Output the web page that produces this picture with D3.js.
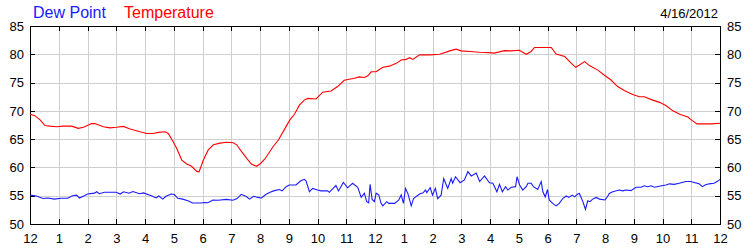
<!DOCTYPE html>
<html>
<head>
<meta charset="utf-8">
<script src="https://cdn.jsdelivr.net/npm/d3@7"></script>
<style>
  body { margin: 0; background: #fff; }
  svg { display: block; font-family: Arial, "Liberation Sans", sans-serif; }
  .axis text { font-size: 13px; fill: #000; }
  .axis line { stroke: #000; }
  .grid line { stroke: #cfcfcf; shape-rendering: crispEdges; }
</style>
</head>
<body>
<svg id="chart" width="750" height="250"></svg>
<script>
'use strict';

// hour labels along the bottom, 12 am to 12 am
const hourLabels = ['12', '1', '2', '3', '4', '5', '6', '7', '8', '9', '10', '11',
                    '12', '1', '2', '3', '4', '5', '6', '7', '8', '9', '10', '11', '12'];
const yTicks = [50, 55, 60, 65, 70, 75, 80, 85];

// temperature readings (hours since midnight, degrees F)
const tempHours = [0.00, 0.17, 0.35, 0.52, 0.70, 0.93, 1.16, 1.45, 1.68, 1.86, 2.14, 2.26, 2.55, 2.78,
  3.01, 3.25, 3.48, 3.83, 4.06, 4.29, 4.46, 4.70, 4.81, 4.98, 5.10, 5.28, 5.45, 5.62, 5.80, 5.88,
  6.03, 6.20, 6.38, 6.61, 6.84, 7.07, 7.19, 7.36, 7.54, 7.70, 7.88, 8.02, 8.17, 8.46, 8.64, 8.87,
  9.04, 9.20, 9.37, 9.54, 9.66, 9.95, 10.18, 10.47, 10.70, 10.93, 11.10, 11.28, 11.45, 11.63, 11.75,
  11.87, 12.04, 12.27, 12.50, 12.74, 12.91, 13.08, 13.20, 13.32, 13.55, 13.90, 14.25, 14.60, 14.82,
  15.00, 15.30, 15.63, 15.98, 16.15, 16.50, 16.73, 17.02, 17.26, 17.43, 17.55, 18.13, 18.30, 18.60,
  18.83, 18.98, 19.11, 19.29, 19.46, 19.75, 19.98, 20.20, 20.44, 20.67, 20.96, 21.20, 21.37, 21.66,
  21.90, 22.13, 22.36, 22.60, 22.88, 23.00, 23.20, 23.70, 24.00];
const tempValues = [69.4, 69.15, 68.4, 67.4, 67.3, 67.2, 67.3, 67.3, 66.9, 67.1, 67.75, 67.75, 67.2, 67.0,
  67.1, 67.25, 66.8, 66.3, 66.0, 66.0, 66.2, 66.3, 66.0, 64.55, 63.4, 61.3, 60.6, 60.2, 59.3, 59.2,
  61.3, 63.1, 64.0, 64.3, 64.45, 64.35, 64.0, 62.8, 61.6, 60.6, 60.2, 60.7, 61.5, 63.7, 64.85, 66.9,
  68.4, 69.4, 71.0, 71.9, 72.2, 72.1, 73.3, 73.5, 74.3, 75.4, 75.6, 75.75, 76.0, 75.9, 76.2,
  76.9, 76.9, 77.7, 77.9, 78.4, 79.0, 79.1, 79.4, 79.1, 79.9, 79.9, 80.0, 80.6, 80.9,
  80.6, 80.5, 80.35, 80.3, 80.2, 80.65, 80.6, 80.7, 80.0, 80.5, 81.2, 81.2, 80.05, 79.6,
  78.4, 77.7, 78.1, 78.7, 78.0, 77.2, 76.3, 75.5, 74.3, 73.6, 72.9, 72.5, 72.5, 71.9,
  71.5, 70.9, 70.0, 69.4, 68.9, 68.4, 67.7, 67.7, 67.8];

// dew point readings (hours since midnight, degrees F)
const dewHours = [0.00, 0.22, 0.45, 0.62, 0.85, 1.08, 1.31, 1.48, 1.62, 1.72, 1.89, 2.00, 2.24, 2.32,
  2.41, 2.59, 3.00, 3.14, 3.25, 3.44, 3.58, 3.81, 3.95, 4.22, 4.39, 4.48, 4.62, 4.73, 4.91, 5.02,
  5.14, 5.31, 5.49, 5.66, 5.95, 6.07, 6.19, 6.36, 6.54, 6.83, 7.06, 7.20, 7.35, 7.52, 7.64, 7.78,
  7.92, 8.05, 8.20, 8.35, 8.50, 8.68, 8.77, 8.91, 9.02, 9.25, 9.42, 9.54, 9.60, 9.72, 9.83, 10.00,
  10.12, 10.35, 10.41, 10.64, 10.73, 10.90, 11.05, 11.22, 11.40, 11.52, 11.63, 11.71, 11.78, 11.83,
  11.90, 11.98, 12.04, 12.13, 12.21, 12.27, 12.41, 12.48, 12.68, 12.83, 12.91, 12.99, 13.06, 13.14,
  13.26, 13.34, 13.55, 13.67, 13.76, 13.80, 13.92, 14.00, 14.10, 14.18, 14.30, 14.39, 14.53, 14.65,
  14.70, 14.80, 14.96, 15.11, 15.23, 15.35, 15.52, 15.64, 15.81, 15.98, 16.10, 16.24, 16.33, 16.43,
  16.54, 16.62, 16.74, 16.89, 16.94, 17.03, 17.14, 17.26, 17.32, 17.43, 17.51, 17.66, 17.78, 17.84,
  17.92, 18.00, 18.06, 18.18, 18.30, 18.41, 18.53, 18.65, 18.74, 18.86, 18.94, 19.05, 19.11, 19.23,
  19.32, 19.40, 19.48, 19.57, 19.69, 19.81, 20.00, 20.09, 20.15, 20.27, 20.50, 20.62, 20.73, 20.90,
  21.08, 21.25, 21.37, 21.48, 21.60, 21.72, 21.97, 22.12, 22.24, 22.41, 22.58, 22.81, 22.98, 23.10,
  23.27, 23.39, 23.48, 23.62, 23.79, 23.90, 24.00];
const dewValues = [55.1, 54.95, 54.5, 54.6, 54.4, 54.55, 54.55, 55.0, 55.1, 54.6, 55.0, 55.3, 55.45, 55.7,
  55.35, 55.6, 55.6, 55.3, 55.7, 55.45, 55.75, 55.35, 55.5, 55.0, 54.6, 54.95, 54.4, 54.9, 55.3, 55.2,
  54.55, 54.4, 54.1, 53.7, 53.7, 53.8, 53.75, 54.25, 54.2, 54.35, 54.2, 54.5, 55.25, 54.85, 54.4, 54.9,
  54.7, 54.6, 55.2, 55.6, 55.9, 56.1, 55.85, 56.6, 56.9, 56.9, 57.65, 57.9, 57.65, 55.7, 56.3, 56.0,
  55.85, 55.85, 55.6, 56.8, 55.85, 57.35, 56.4, 57.2, 56.5, 54.7, 55.45, 53.95, 53.75, 57.0,
  54.35, 53.95, 55.45, 55.15, 53.65, 53.2, 53.95, 53.65, 53.65, 54.25, 55.15, 53.65, 56.3, 55.45,
  53.2, 54.5, 55.3, 55.5, 56.0, 55.55, 56.4, 55.1, 56.3, 54.5, 55.1, 58.05, 56.3, 58.05,
  57.2, 58.35, 57.3, 57.8, 59.25, 58.5, 59.0, 57.5, 58.5, 57.3, 57.2, 55.7, 57.0, 55.7,
  56.6, 56.0, 56.5, 56.6, 58.35, 56.9, 56.0, 56.6, 57.2, 57.2, 56.6, 56.1, 57.5, 55.7,
  54.8, 56.1, 54.25, 53.65, 53.2, 53.65, 54.5, 54.95, 54.7, 55.1, 54.8, 55.3, 55.4, 53.95,
  52.6, 54.1, 53.95, 54.4, 54.7, 54.4, 54.25, 54.85, 55.4, 55.7, 56.0, 55.85, 56.0, 55.9,
  56.5, 56.5, 56.75, 56.6, 56.75, 56.5, 56.75, 56.9, 57.1, 57.0, 57.2, 57.5, 57.5, 57.35,
  57.1, 56.6, 56.9, 57.1, 57.2, 57.5, 57.9];

const dateLabel = '4/16/2012';

const svg = d3.select('#chart');
const plotLeft = 30, plotRight = 720, plotTop = 26, plotBottom = 224;

const x = d3.scaleLinear().domain([0, 24]).range([plotLeft, plotRight]);
const y = d3.scaleLinear().domain([50, 85]).range([plotBottom, plotTop]);
const hours = d3.range(0, 25);

// grid
const grid = svg.append('g').attr('class', 'grid');
grid.selectAll('line.v')
    .data(hours.slice(1, -1))
    .enter().append('line')
    .attr('x1', d => Math.round(x(d)) + 0.5).attr('x2', d => Math.round(x(d)) + 0.5)
    .attr('y1', plotTop).attr('y2', plotBottom);
grid.selectAll('line.h')
    .data(yTicks.slice(1, -1))
    .enter().append('line')
    .attr('x1', plotLeft).attr('x2', plotRight)
    .attr('y1', d => Math.round(y(d)) + 0.5).attr('y2', d => Math.round(y(d)) + 0.5);

// axes, ticks pointing inward
svg.append('g').attr('class', 'axis')
    .attr('transform', `translate(0,${plotBottom})`)
    .call(d3.axisBottom(x).tickValues(hours).tickFormat(i => hourLabels[i])
        .tickSize(-5).tickSizeOuter(0).tickPadding(10))
    .call(g => g.select('.domain').remove());

svg.append('g').attr('class', 'axis')
    .attr('transform', `translate(0,${plotTop})`)
    .call(d3.axisTop(x).tickValues(hours).tickFormat('').tickSize(-5).tickSizeOuter(0))
    .call(g => g.select('.domain').remove());

svg.append('g').attr('class', 'axis')
    .attr('transform', `translate(${plotLeft},0)`)
    .call(d3.axisLeft(y).tickValues(yTicks).tickSize(-5).tickSizeOuter(0).tickPadding(6))
    .call(g => g.select('.domain').remove());

svg.append('g').attr('class', 'axis')
    .attr('transform', `translate(${plotRight},0)`)
    .call(d3.axisRight(y).tickValues(yTicks).tickSize(-5).tickSizeOuter(0).tickPadding(7))
    .call(g => g.select('.domain').remove());

svg.selectAll('.axis .tick line').style('shape-rendering', 'crispEdges');

// frame
svg.append('rect')
    .attr('x', plotLeft + 0.5).attr('y', plotTop + 0.5)
    .attr('width', plotRight - plotLeft).attr('height', plotBottom - plotTop)
    .attr('fill', 'none').attr('stroke', '#000')
    .style('shape-rendering', 'crispEdges');

// series
const line = d3.line().x(d => x(d[0])).y(d => y(d[1]));

svg.append('path')
    .datum(d3.zip(dewHours, dewValues))
    .attr('d', line)
    .attr('fill', 'none').attr('stroke', '#1a1aff').attr('stroke-width', 1.1);

svg.append('path')
    .datum(d3.zip(tempHours, tempValues))
    .attr('d', line)
    .attr('fill', 'none').attr('stroke', '#ff0000').attr('stroke-width', 1.1);

// legend + date
svg.append('text').attr('x', 33).attr('y', 18)
    .attr('font-size', 16).attr('fill', '#1a1aff').text('Dew Point');
svg.append('text').attr('x', 124).attr('y', 18)
    .attr('font-size', 16).attr('fill', '#ff0000').text('Temperature');
svg.append('text').attr('x', 718).attr('y', 18)
    .attr('font-size', 13).attr('text-anchor', 'end').attr('fill', '#000').text(dateLabel);
</script>
</body>
</html>
